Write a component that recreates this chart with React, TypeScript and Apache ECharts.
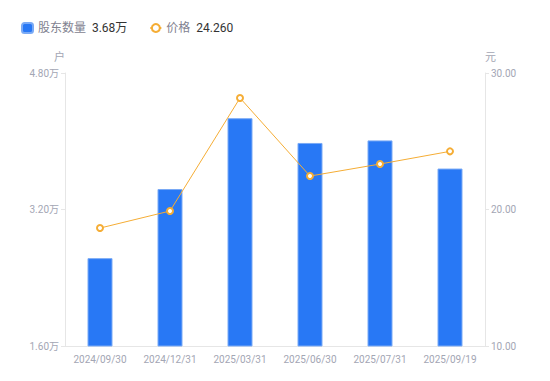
import React, { useEffect, useRef } from "react";
import * as echarts from "echarts";

const categories = ["2024/09/30", "2024/12/31", "2025/03/31", "2025/06/30", "2025/07/31", "2025/09/19"];
const holders = [2.63, 3.44, 4.27, 3.98, 4.01, 3.68]; // 万户
const prices = [18.64, 19.89, 28.17, 22.45, 23.33, 24.26]; // 元
const leftTicks = [1.6, 3.2, 4.8];
const rightTicks = [10, 20, 30];

export default function App() {
  const ref = useRef<HTMLDivElement>(null);
  useEffect(() => {
    if (!ref.current) return;
    const chart = echarts.init(ref.current, null, { renderer: "svg" });
    const lastHolder = holders[holders.length - 1];
    const lastPrice = prices[prices.length - 1];
    const labelColor = "#a3a6b4";
    chart.setOption({
      animation: false,
      textStyle: { fontFamily: "Roboto, 'Noto Sans CJK SC', sans-serif" },
      legend: {
        left: 16,
        top: 17,
        itemGap: 22,
        itemWidth: 11,
        itemHeight: 10,
        data: [
          { name: "股东数量", icon: "roundRect" },
          { name: "价格" },
        ],
        formatter: (name: string) =>
          name === "股东数量"
            ? `{n|${name}}  {v|${lastHolder.toFixed(2)}万}`
            : `{n|${name}}  {v|${lastPrice.toFixed(3)}}`,
        textStyle: {
          rich: {
            n: { color: "#7f8290", fontSize: 12 },
            v: { color: "#333333", fontSize: 12 },
          },
        },
      },
      grid: { left: 65, right: 65, top: 73, bottom: 35 },
      xAxis: {
        type: "category",
        data: categories,
        boundaryGap: true,
        axisLine: { lineStyle: { color: "#e6e6e6" } },
        axisTick: { show: false },
        axisLabel: { color: labelColor, fontSize: 10, margin: 8, interval: 0 },
      },
      yAxis: [
        {
          type: "value",
          name: "户",
          nameGap: 10,
          nameTextStyle: { color: labelColor, fontSize: 11, align: "right" },
          min: leftTicks[0],
          max: leftTicks[2],
          interval: 1.6,
          axisLine: { show: true, lineStyle: { color: "#e6e6e6" } },
          axisTick: { show: true, length: 4, lineStyle: { color: "#e6e6e6" } },
          splitLine: { show: false },
          axisLabel: {
            color: labelColor,
            fontSize: 10,
            margin: 6,
            formatter: (v: number) => `${v.toFixed(2)}万`,
          },
        },
        {
          type: "value",
          name: "元",
          nameGap: 10,
          nameTextStyle: { color: labelColor, fontSize: 11, align: "left" },
          min: rightTicks[0],
          max: rightTicks[2],
          interval: 10,
          axisLine: { show: true, lineStyle: { color: "#e6e6e6" } },
          axisTick: { show: true, length: 4, lineStyle: { color: "#e6e6e6" } },
          splitLine: { show: false },
          axisLabel: {
            color: labelColor,
            fontSize: 10,
            margin: 6,
            formatter: (v: number) => v.toFixed(2),
          },
        },
      ],
      series: [
        {
          name: "股东数量",
          type: "bar",
          yAxisIndex: 0,
          data: holders,
          barWidth: 25,
          itemStyle: { color: "#2878f5", borderColor: "#7aaaf5", borderWidth: 1 },
        },
        {
          name: "价格",
          type: "line",
          yAxisIndex: 1,
          data: prices,
          symbol: "emptyCircle",
          symbolSize: 6,
          lineStyle: { color: "#f5ad35", width: 1 },
          itemStyle: { color: "#f5ad35", borderWidth: 1.5 },
        },
      ],
    });
    return () => chart.dispose();
  }, []);
  return (
    <div
      ref={ref}
      style={{ position: "absolute", left: 0, top: 0, width: 550, height: 381 }}
    />
  );
}
